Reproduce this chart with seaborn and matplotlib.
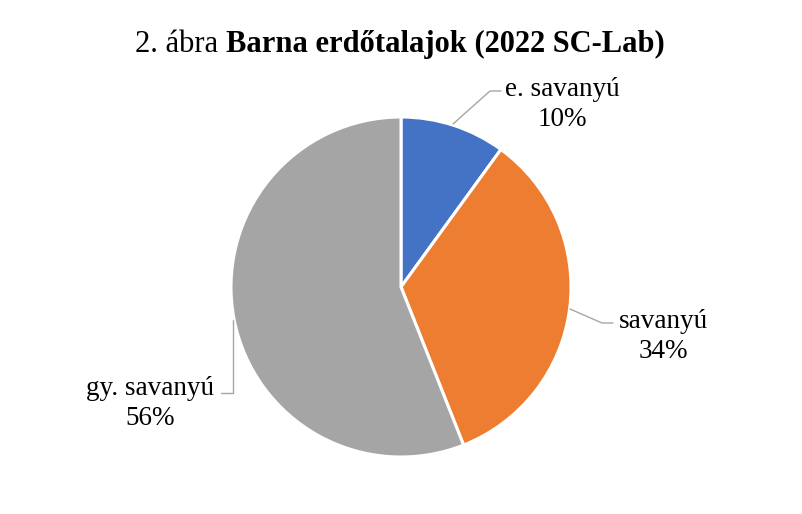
import matplotlib
matplotlib.use("Agg")
import matplotlib.pyplot as plt
import seaborn as sns
import numpy as np

# data
categories = ["e. savanyú", "savanyú", "gy. savanyú"]
shares = [10, 34, 56]
slice_colors = ["#4472C4", "#ED7D31", "#A5A5A5"]

title_plain = "2. ábra "
title_bold = "Barna erdőtalajok (2022 SC-Lab)"

sns.set_theme(style="white")
plt.rcParams["font.family"] = ["Liberation Serif", "DejaVu Serif"]
plt.rcParams["text.color"] = "black"

W, H = 802, 514
fig = plt.figure(figsize=(W / 100, H / 100), dpi=100)
ax = fig.add_axes([0, 0, 1, 1])

def Y(y):
    # image-style y (from top) to axes y
    return H - y

cx, cy, r = 401, 287, 170
palette = sns.color_palette(slice_colors)
ax.pie(shares, colors=palette, startangle=90, counterclock=False,
       center=(cx, Y(cy)), radius=r,
       wedgeprops=dict(edgecolor="white", linewidth=2.2))
ax.set_xlim(0, W)
ax.set_ylim(0, H)
ax.set_axis_off()

# label layout: text centre x, baseline of last line, leader polyline
layout = [
    dict(tx=562, ty=126, line=[(453, 124), (490, 91), (501, 91)]),
    dict(tx=663, ty=358, line=[(570, 309), (602, 323), (613, 323)]),
    dict(tx=150, ty=425, line=[(233, 320), (233, 393), (221, 393)]),
]
for cat, val, lay in zip(categories, shares, layout):
    xs = [p[0] for p in lay["line"]]
    ys = [Y(p[1]) for p in lay["line"]]
    ax.plot(xs, ys, color="#A6A6A6", linewidth=1.0)
    ax.text(lay["tx"], Y(lay["ty"]), f"{cat}\n{val}%", ha="center", va="baseline",
            fontsize=19.5, color="black", linespacing=1.28)

# title: plain + bold parts centred together
renderer = fig.canvas.get_renderer()
t1 = ax.text(0, Y(52), title_plain, fontsize=22, ha="left", va="baseline", color="black")
t2 = ax.text(0, Y(52), title_bold, fontsize=22, fontweight="bold", ha="left",
             va="baseline", color="black")
w1 = t1.get_window_extent(renderer).width
w2 = t2.get_window_extent(renderer).width
x0 = 400 - (w1 + w2) / 2
t1.set_x(x0)
t2.set_x(x0 + w1)

fig.savefig("out.png", dpi=100)
